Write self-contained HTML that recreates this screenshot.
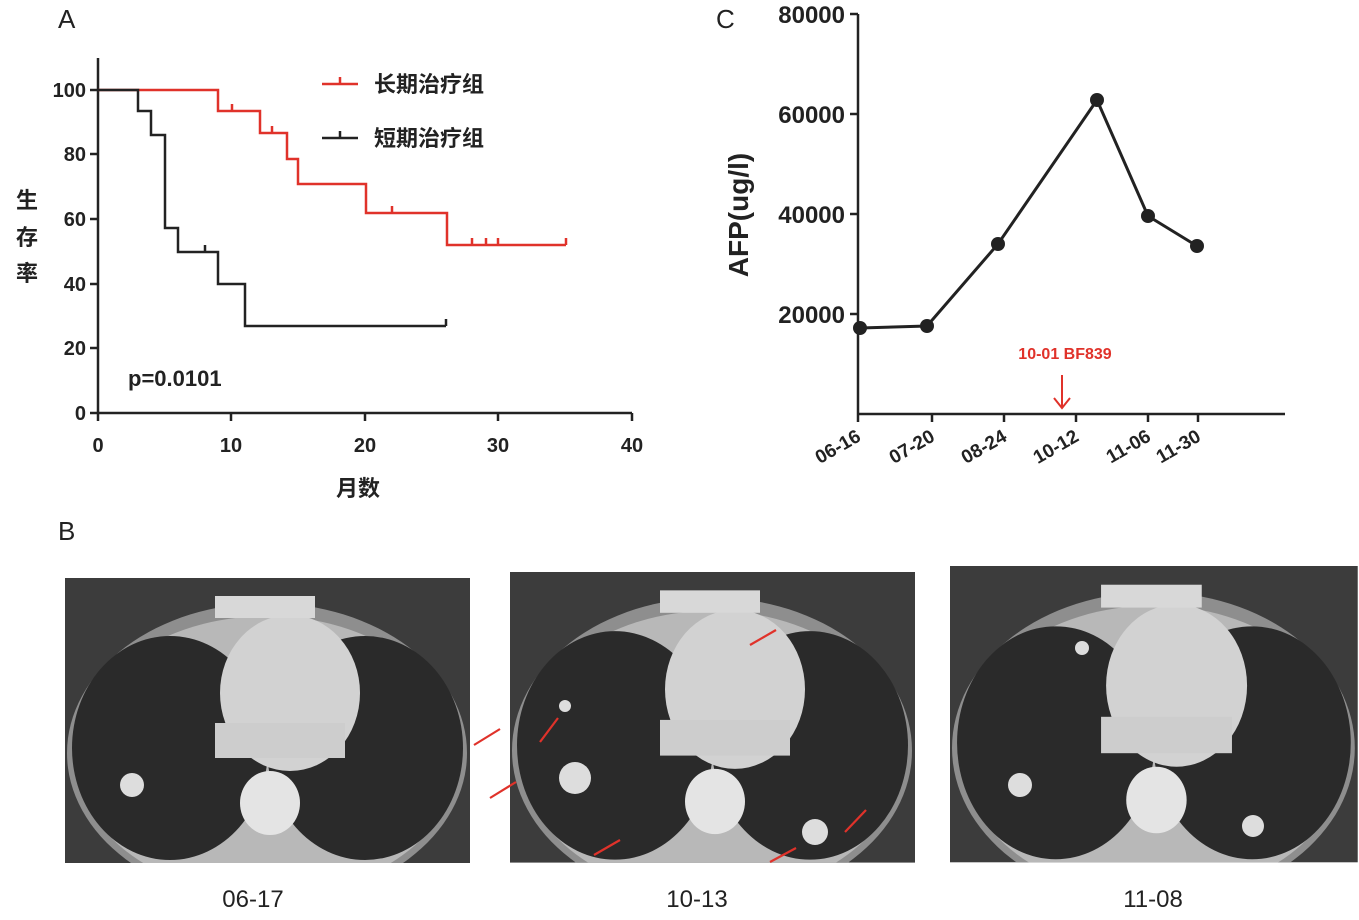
<!DOCTYPE html>
<html><head><meta charset="utf-8"><style>
body{margin:0;background:#fff;}
svg{display:block;font-family:"Liberation Sans","Noto Sans CJK SC",sans-serif;}
</style></head><body>
<svg width="1359" height="920" viewBox="0 0 1359 920" xmlns="http://www.w3.org/2000/svg">
<defs>
<clipPath id="cp"><rect x="0" y="0" width="405" height="285"/></clipPath>
<g id="ct">
 <g clip-path="url(#cp)">
 <rect x="0" y="0" width="405" height="285" fill="#3c3c3c"/>
 <ellipse cx="202" cy="175" rx="200" ry="150" fill="#8e8e8e"/>
 <ellipse cx="202" cy="178" rx="192" ry="140" fill="#b8b8b8"/>
 <ellipse cx="105" cy="170" rx="98" ry="112" fill="#2a2a2a"/>
 <ellipse cx="300" cy="170" rx="98" ry="112" fill="#2a2a2a"/>
 <ellipse cx="225" cy="115" rx="70" ry="78" fill="#d2d2d2"/>
 <rect x="150" y="145" width="130" height="35" fill="#cdcdcd"/>
 <ellipse cx="205" cy="225" rx="30" ry="32" fill="#e4e4e4"/>
 <rect x="150" y="18" width="100" height="22" fill="#d8d8d8"/>
 </g>
</g>
</defs>

<!-- Panel A -->
<text x="58" y="28" font-size="26" fill="#222">A</text>
<g stroke="#222" stroke-width="2.5" fill="none">
 <line x1="98" y1="58" x2="98" y2="413"/>
 <line x1="98" y1="413" x2="632" y2="413"/>
 <line x1="90" y1="90" x2="98" y2="90"/><line x1="90" y1="154" x2="98" y2="154"/>
 <line x1="90" y1="219" x2="98" y2="219"/><line x1="90" y1="284" x2="98" y2="284"/>
 <line x1="90" y1="348" x2="98" y2="348"/><line x1="90" y1="413" x2="98" y2="413"/>
 <line x1="98" y1="413" x2="98" y2="421"/><line x1="231" y1="413" x2="231" y2="421"/>
 <line x1="365" y1="413" x2="365" y2="421"/><line x1="498" y1="413" x2="498" y2="421"/>
 <line x1="632" y1="413" x2="632" y2="421"/>
</g>
<g font-size="20" font-weight="bold" fill="#222" text-anchor="end">
 <text x="86" y="97">100</text><text x="86" y="161">80</text><text x="86" y="226">60</text>
 <text x="86" y="291">40</text><text x="86" y="355">20</text><text x="86" y="420">0</text>
</g>
<g font-size="20" font-weight="bold" fill="#222" text-anchor="middle">
 <text x="98" y="452">0</text><text x="231" y="452">10</text><text x="365" y="452">20</text>
 <text x="498" y="452">30</text><text x="632" y="452">40</text>
</g>
<polyline fill="none" stroke="#e0322a" stroke-width="2.5" points="98,90 218,90 218,111 260,111 260,133 287,133 287,159 298,159 298,184 366,184 366,213 447,213 447,245 566,245"/>
<g stroke="#e0322a" stroke-width="2.5"><line x1="232" y1="104" x2="232" y2="111"/><line x1="272" y1="126" x2="272" y2="133"/><line x1="392" y1="206" x2="392" y2="213"/><line x1="472" y1="238" x2="472" y2="245"/><line x1="486" y1="238" x2="486" y2="245"/><line x1="498" y1="238" x2="498" y2="245"/><line x1="566" y1="238" x2="566" y2="245"/></g>
<polyline fill="none" stroke="#222" stroke-width="2.5" points="98,90 138,90 138,111 151,111 151,135 165,135 165,228 178,228 178,252 218,252 218,284 245,284 245,326 446,326"/>
<g stroke="#222" stroke-width="2.5"><line x1="205" y1="245" x2="205" y2="252"/><line x1="446" y1="319" x2="446" y2="326"/></g>
<line x1="322" y1="84" x2="358" y2="84" stroke="#e0322a" stroke-width="2.5"/><line x1="340" y1="77" x2="340" y2="84" stroke="#e0322a" stroke-width="2.5"/>
<line x1="322" y1="138" x2="358" y2="138" stroke="#222" stroke-width="2.5"/><line x1="340" y1="131" x2="340" y2="138" stroke="#222" stroke-width="2.5"/>
<g font-size="22" font-weight="bold" fill="#222">
 <text x="374" y="92">长期治疗组</text><text x="374" y="146">短期治疗组</text>
 <text x="128" y="386">p=0.0101</text>
 <text x="16" y="208">生</text><text x="16" y="245">存</text><text x="16" y="281">率</text>
 <text x="336" y="496">月数</text>
</g>

<!-- Panel C -->
<text x="716" y="28" font-size="26" fill="#222">C</text>
<g stroke="#222" stroke-width="2.5" fill="none">
 <line x1="858" y1="14" x2="858" y2="414"/><line x1="858" y1="414" x2="1285" y2="414"/>
 <line x1="850" y1="14" x2="858" y2="14"/><line x1="850" y1="114" x2="858" y2="114"/>
 <line x1="850" y1="214" x2="858" y2="214"/><line x1="850" y1="314" x2="858" y2="314"/>
 <line x1="858" y1="414" x2="858" y2="422"/><line x1="932" y1="414" x2="932" y2="422"/>
 <line x1="1004" y1="414" x2="1004" y2="422"/><line x1="1076" y1="414" x2="1076" y2="422"/>
 <line x1="1148" y1="414" x2="1148" y2="422"/><line x1="1198" y1="414" x2="1198" y2="422"/>
</g>
<g font-size="24" font-weight="bold" fill="#222" text-anchor="end">
 <text x="845" y="23">80000</text><text x="845" y="123">60000</text><text x="845" y="223">40000</text><text x="845" y="323">20000</text>
</g>
<text transform="translate(748,215) rotate(-90)" font-size="28" font-weight="bold" fill="#222" text-anchor="middle">AFP(ug/l)</text>
<g font-size="19" font-weight="bold" fill="#222" text-anchor="end">
 <text transform="translate(862,440) rotate(-30)">06-16</text>
 <text transform="translate(936,440) rotate(-30)">07-20</text>
 <text transform="translate(1008,440) rotate(-30)">08-24</text>
 <text transform="translate(1080,440) rotate(-30)">10-12</text>
 <text transform="translate(1152,440) rotate(-30)">11-06</text>
 <text transform="translate(1202,440) rotate(-30)">11-30</text>
</g>
<polyline fill="none" stroke="#222" stroke-width="3" points="860,328 927,326 998,244 1097,100 1148,216 1197,246"/>
<g fill="#222"><circle cx="860" cy="328" r="7"/><circle cx="927" cy="326" r="7"/><circle cx="998" cy="244" r="7"/><circle cx="1097" cy="100" r="7"/><circle cx="1148" cy="216" r="7"/><circle cx="1197" cy="246" r="7"/></g>
<text x="1065" y="359" font-size="16" font-weight="bold" fill="#e0322a" text-anchor="middle">10-01 BF839</text>
<g stroke="#e0322a" stroke-width="2" fill="none"><line x1="1062" y1="375" x2="1062" y2="408"/><polyline points="1054,398 1062,408 1070,398"/></g>

<!-- Panel B -->
<text x="58" y="540" font-size="26" fill="#222">B</text>
<use href="#ct" transform="translate(65,578)"/>
<use href="#ct" transform="translate(510,572) scale(1,1.02)"/>
<use href="#ct" transform="translate(950,566) scale(1.007,1.04)"/>
<g fill="#ddd"><circle cx="132" cy="785" r="12"/><circle cx="575" cy="778" r="16"/><circle cx="815" cy="832" r="13"/><circle cx="565" cy="706" r="6"/><circle cx="1020" cy="785" r="12"/><circle cx="1253" cy="826" r="11"/><circle cx="1082" cy="648" r="7"/></g>
<g stroke="#e0322a" stroke-width="2.2" fill="none">
 <line x1="474" y1="745" x2="500" y2="729"/><line x1="490" y1="798" x2="516" y2="782"/>
 <line x1="540" y1="742" x2="558" y2="718"/><line x1="594" y1="855" x2="620" y2="840"/>
 <line x1="750" y1="645" x2="776" y2="630"/><line x1="770" y1="862" x2="796" y2="848"/>
 <line x1="845" y1="832" x2="866" y2="810"/>
</g>
<g font-size="24" fill="#222" text-anchor="middle">
 <text x="253" y="907">06-17</text><text x="697" y="907">10-13</text><text x="1153" y="907">11-08</text>
</g>
</svg>
</body></html>
